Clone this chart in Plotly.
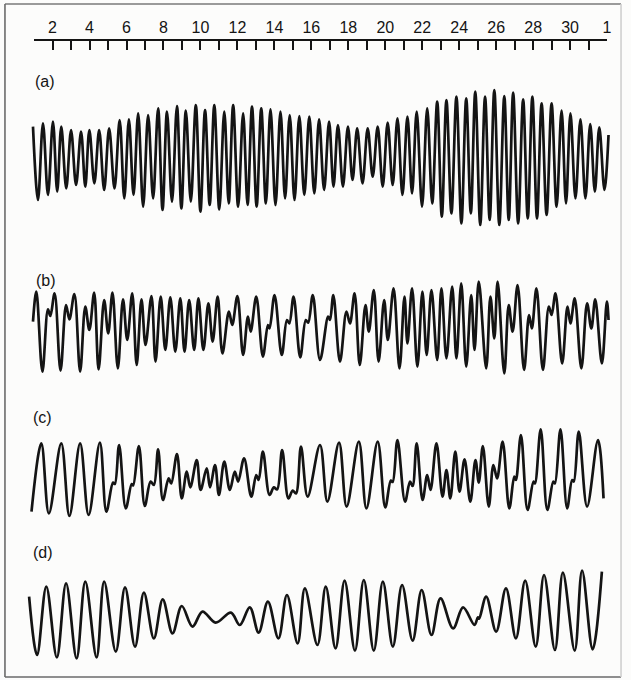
import plotly.graph_objects as go

# ---------------------------------------------------------------
# Tide records over one month: (a) semidiurnal, (b) mixed, mainly
# semidiurnal, (c) mixed, mainly diurnal, (d) diurnal.
# Each record is given by its turning points: day of month and
# water level (m) about mean level.
# ---------------------------------------------------------------

tick_days = list(range(1, 33))
tick_labels = ["", "2", "", "4", "", "6", "", "8", "", "10", "", "12", "", "14", "", "16",
               "", "18", "", "20", "", "22", "", "24", "", "26", "", "28", "", "30", "", "1"]

a_day = [0.94, 1.21, 1.48, 1.75, 2.02, 2.25, 2.47, 2.74, 3.00, 3.27, 3.54, 3.77, 3.99, 4.26,
         4.52, 4.79, 5.06, 5.35, 5.63, 5.88, 6.13, 6.38, 6.63, 6.90, 7.17, 7.44, 7.71, 7.95,
         8.19, 8.46, 8.73, 8.97, 9.21, 9.48, 9.75, 10.00, 10.25, 10.50, 10.75, 11.02, 11.29,
         11.53, 11.77, 12.04, 12.31, 12.55, 12.79, 13.04, 13.29, 13.54, 13.79, 14.06, 14.33,
         14.58, 14.83, 15.09, 15.35, 15.62, 15.89, 16.16, 16.42, 16.69, 16.96, 17.20, 17.44,
         17.71, 17.98, 18.23, 18.48, 18.77, 19.05, 19.32, 19.59, 19.86, 20.13, 20.40, 20.66,
         20.93, 21.20, 21.45, 21.70, 21.99, 22.27, 22.54, 22.81, 23.06, 23.31, 23.58, 23.85,
         24.12, 24.38, 24.63, 24.87, 25.14, 25.40, 25.65, 25.90, 26.17, 26.44, 26.68, 26.92,
         27.19, 27.46, 27.71, 27.96, 28.21, 28.46, 28.73, 29.00, 29.27, 29.54, 29.78, 30.02,
         30.29, 30.56, 30.83, 31.09, 31.34, 31.58, 31.86, 32.08]
a_level = [1.52, -2.15,
           1.68, -1.90, 1.77, -1.73, 1.52, -1.57, 1.35, -1.40, 1.27, -1.48, 1.35, -1.32,
           1.35, -1.65, 1.43, -1.57, 1.85, -2.07, 1.88, -1.90, 2.18, -2.48, 2.10, -2.07,
           2.43, -2.65, 2.27, -2.23, 2.55, -2.57, 2.32, -2.23, 2.60, -2.73, 2.35, -2.40,
           2.60, -2.62, 2.27, -2.32, 2.60, -2.48, 2.18, -2.40, 2.52, -2.48, 2.43, -2.32,
           2.38, -2.40, 2.27, -2.07, 2.10, -2.15, 2.05, -1.90, 2.02, -1.82, 1.88, -1.65,
           1.77, -1.48, 1.60, -1.48, 1.52, -1.15, 1.43, -1.32, 1.43, -0.98, 1.52, -1.48,
           1.72, -1.40, 1.93, -1.90, 2.02, -1.82, 2.27, -2.48, 2.43, -2.32, 2.77, -2.98,
           2.85, -2.82, 3.02, -3.32, 2.93, -2.82, 3.27, -3.40, 3.02, -3.15, 3.35, -3.40,
           3.05, -3.15, 3.22, -3.32, 2.88, -3.07, 3.02, -3.07, 2.68, -2.90, 2.68, -2.48,
           2.32, -2.32, 2.18, -2.07, 1.88, -2.07, 1.65, -1.73, 1.48, -1.65,
           1.10]

b_day = [0.94, 1.12, 1.45, 1.75, 1.88, 2.11, 2.43, 2.73, 2.91, 3.18, 3.49, 3.77, 3.99, 4.25,
         4.49, 4.79, 5.01, 5.24, 5.53, 5.81, 6.04, 6.31, 6.55, 6.81, 7.03, 7.35, 7.57, 7.85,
         8.10, 8.37, 8.64, 8.91, 9.14, 9.39, 9.66, 9.89, 10.16, 10.43, 10.66, 10.93, 11.19,
         11.54, 11.72, 12.00, 12.31, 12.57, 12.72, 13.02, 13.38, 13.65, 13.74, 14.01, 14.40,
         14.68, 14.81, 15.04, 15.40, 15.70, 15.83, 16.08, 16.47, 16.91, 17.01, 17.19, 17.55,
         17.90, 18.09, 18.34, 18.62, 18.93, 19.11, 19.38, 19.64, 19.94, 20.14, 20.45, 20.77,
         21.04, 21.20, 21.45, 21.74, 22.01, 22.24, 22.50, 22.81, 23.04, 23.31, 23.62, 23.85,
         24.11, 24.38, 24.65, 24.83, 25.06, 25.46, 25.69, 25.90, 26.08, 26.44, 26.68, 26.89,
         27.16, 27.51, 27.78, 27.93, 28.18, 28.53, 28.85, 29.00, 29.21, 29.57, 29.86, 30.02,
         30.25, 30.61, 30.92, 31.15, 31.36, 31.72, 31.99, 32.08]
b_level = [0.52, 2.02, -1.98, 1.13, 0.80, 1.93, -1.93, 1.35, 0.63, 1.90, -1.98, 1.27, 0.10,
           1.97, -1.87, 1.60, -0.07, 1.97, -1.82, 1.63, -0.40, 1.93, -1.65, 1.63, -0.65,
           1.80, -1.48, 1.77, -0.90, 1.73, -0.98, 1.68, -0.98, 1.60, -0.90, 1.68, -0.90,
           1.43, -0.48, 1.77, -1.07, 1.02, 0.35, 1.80, -1.15, 0.77, 0.02, 1.77, -1.23,
           0.35, 0.18, 1.85, -1.15, 0.60, 0.43, 1.77, -1.27, 0.60, 0.47, 1.85, -1.40,
           0.77, 0.60, 1.85, -1.48, 1.02, 0.43, 1.93, -1.65, 1.35, 0.02, 2.10, -1.48,
           1.60, -0.40, 2.18, -1.82, 1.77, -0.57, 2.18, -1.73, 2.02, -1.15, 2.10, -1.40,
           2.18, -1.32, 2.27, -1.32, 2.43, -1.73, 1.85, -0.90, 2.52, -1.82, 1.77, -0.32,
           2.52, -2.07, 1.35, 0.02, 2.35, -1.90, 0.85, 0.18, 2.18, -1.90, 1.27, 0.85,
           1.93, -1.57, 1.27, 0.43, 1.68, -1.82, 1.43, 0.18, 1.63, -1.57, 1.52, 0.60]

c_day = [0.86, 1.39, 1.80, 2.47, 2.91, 3.49, 3.95, 4.56, 4.91, 5.27, 5.37, 5.60, 5.96, 6.28,
         6.36, 6.67, 6.99, 7.30, 7.48, 7.71, 7.97, 8.28, 8.42, 8.73, 8.99, 9.26, 9.45, 9.80,
         10.01, 10.34, 10.52, 10.79, 11.00, 11.29, 11.59, 11.86, 12.04, 12.36, 12.75, 13.02,
         13.15, 13.38, 13.74, 13.97, 14.15, 14.42, 14.76, 14.99, 15.17, 15.44, 15.80, 16.47,
         16.87, 17.50, 17.91, 18.57, 18.98, 19.59, 20.00, 20.30, 20.40, 20.66, 21.07, 21.34,
         21.48, 21.70, 22.02, 22.27, 22.45, 22.77, 23.10, 23.31, 23.52, 23.79, 24.02, 24.29,
         24.60, 24.88, 25.06, 25.28, 25.60, 25.85, 26.05, 26.35, 26.71, 26.98, 27.07, 27.34,
         27.70, 28.02, 28.10, 28.41, 28.77, 29.09, 29.18, 29.48, 29.84, 30.11, 30.20, 30.47,
         30.92, 31.51, 31.81]
c_level = [-1.68, 1.73, -1.77, 1.73, -1.90, 1.73, -1.85, 1.77, -1.68, -0.23, -0.30, 1.65,
           -1.52, -0.30, -0.37, 1.60, -1.40, -0.18, -0.35, 1.43, -1.10, -0.02, -0.27, 1.20,
           -1.02, 0.32, -0.47, 0.90, -0.60, 0.48, -0.47, 0.65, -0.85, 0.82, -0.60, 0.32,
           -0.18, 0.98, -0.93, 0.15, -0.10, 1.32, -0.85, -0.47, -0.57, 1.40, -1.02, -0.63,
           -0.77, 1.57, -0.93, 1.65, -1.18, 1.77, -1.43, 1.82, -1.52, 1.82, -1.47, -0.13,
           -0.20, 1.90, -1.18, -0.18, -0.40, 1.73, -1.10, 0.15, -0.60, 1.73, -0.93, 0.40,
           -1.02, 1.32, -0.68, 0.93, -1.18, 0.90, -0.23, 1.60, -1.43, 0.65, -0.02, 1.82,
           -1.52, 0.07, -0.10, 2.15, -1.60, -0.18, -0.27, 2.43, -1.60, -0.18, -0.27, 2.43,
           -1.52, -0.10, -0.18, 2.32, -1.43, 1.90, -1.02]

d_day = [0.73, 1.16, 1.66, 2.23, 2.73, 3.30, 3.77, 4.38, 4.79, 5.42, 5.92, 6.46, 6.94, 7.48,
         7.96, 8.49, 8.99, 9.57, 10.11, 10.82, 11.65, 12.13, 12.67, 13.15, 13.65, 14.22,
         14.68, 15.26, 15.65, 16.33, 16.78, 17.31, 17.80, 18.36, 18.84, 19.38, 19.87, 20.41,
         20.91, 21.48, 21.97, 22.50, 22.99, 23.67, 24.21, 24.83, 25.01, 25.08, 25.46, 26.00,
         26.53, 27.07, 27.57, 28.14, 28.59, 29.18, 29.61, 30.25, 30.65, 31.22, 31.72]
d_level = [1.22, -1.70, 1.72, -1.82, 1.88, -1.87, 1.97, -1.82, 1.97, -1.53, 1.68, -1.28,
           1.42, -0.87, 1.08, -0.62, 0.75, -0.28, 0.47, -0.08, 0.42, -0.20, 0.68, -0.58,
           0.97, -0.87, 1.30, -1.12, 1.63, -1.20, 1.72, -1.37, 2.02, -1.48, 2.05, -1.48,
           1.97, -1.28, 1.80, -0.98, 1.55, -0.70, 1.13, -0.37, 0.68, -0.20, 0.18, 0.12,
           1.22, -0.53, 1.63, -0.87, 2.02, -1.28, 2.30, -1.45, 2.42, -1.48, 2.52, -1.42,
           2.47]

panel_names = ["(a)", "(b)", "(c)", "(d)"]
panel_days = [a_day, b_day, c_day, d_day]
panel_levels = [a_level, b_level, c_level, d_level]

# ---------------------------------------------------------------
# Page geometry (pixels)
# ---------------------------------------------------------------
W, H = 631, 680
DAY2_PX = 53.0          # horizontal position of day 2
PX_PER_DAY = 18.63
PX_PER_M = 20.0
AXIS_PX = 40.5          # vertical position of the day scale
mean_level_px = [157, 332, 478, 621]
band_px = [(55, 250), (250, 400), (400, 535), (535, 672)]
label_px = [(45, 81), (46, 280), (43, 417), (43, 552)]

INK = "#141414"
FONT = "Liberation Sans, Arial, sans-serif"


def day_to_px(d):
    return DAY2_PX + (d - 2) * PX_PER_DAY


fig = go.Figure()
layout_axes = {}
for i, (days, levels) in enumerate(zip(panel_days, panel_levels)):
    assert len(days) == len(levels), panel_names[i]
    yid = "y" if i == 0 else f"y{i + 1}"
    fig.add_trace(go.Scatter(
        x=days, y=levels, mode="lines", xaxis="x", yaxis=yid,
        line=dict(color=INK, width=2.7, shape="spline", smoothing=1.0),
        showlegend=False, hoverinfo="skip",
    ))
    top, bot = band_px[i]
    mid = mean_level_px[i]
    layout_axes["yaxis" if i == 0 else f"yaxis{i + 1}"] = dict(
        domain=[1 - bot / H, 1 - top / H],
        range=[(mid - bot) / PX_PER_M, (mid - top) / PX_PER_M],
        visible=False, fixedrange=True, anchor="x",
    )

# day scale along the top: its own thin subplot whose top edge carries the axis
fig.add_trace(go.Scatter(x=tick_days, y=[None] * len(tick_days), mode="markers",
                         xaxis="x2", yaxis="y5", showlegend=False, hoverinfo="skip"))
layout_axes["yaxis5"] = dict(domain=[1 - (AXIS_PX + 12) / H, 1 - AXIS_PX / H],
                             range=[0, 1], visible=False, fixedrange=True, anchor="x2")

fig.update_layout(
    width=W, height=H,
    margin=dict(l=0, r=0, t=0, b=0, pad=0),
    paper_bgcolor="#fcfcfb", plot_bgcolor="rgba(0,0,0,0)",
    showlegend=False,
    xaxis=dict(domain=[0, 1],
               range=[2 - DAY2_PX / PX_PER_DAY, 2 + (W - DAY2_PX) / PX_PER_DAY],
               visible=False, fixedrange=True, anchor="y"),
    xaxis2=dict(domain=[day_to_px(1) / W, day_to_px(32) / W],
                range=[1, 32], anchor="y5", side="top",
                showline=True, linecolor=INK, linewidth=2,
                ticks="inside", ticklen=9, tickwidth=2, tickcolor=INK,
                tickmode="array", tickvals=tick_days, ticktext=tick_labels,
                tickfont=dict(family=FONT, size=16, color=INK),
                ticklabelstandoff=-1,
                showgrid=False, zeroline=False, fixedrange=True),
    **layout_axes,
)

# panel letters
for name, (px, py) in zip(panel_names, label_px):
    fig.add_annotation(text=name, x=px / W, y=1 - py / H, xref="paper", yref="paper",
                       xanchor="center", yanchor="middle", showarrow=False,
                       font=dict(family=FONT, size=16, color=INK))

# frame around the figure
frame = [((5, 4), (626, 4), "#7a7a7a"), ((5, 4), (5, 677), "#6a6a6a"),
         ((5, 677), (626, 677), "#6a6a6a"), ((626, 4), (626, 677), "#cfcfcf")]
for (x0, y0), (x1, y1), col in frame:
    fig.add_shape(type="line", xref="paper", yref="paper",
                  x0=x0 / W, y0=1 - y0 / H, x1=x1 / W, y1=1 - y1 / H,
                  line=dict(color=col, width=1.6))

fig.write_html("out.html")
